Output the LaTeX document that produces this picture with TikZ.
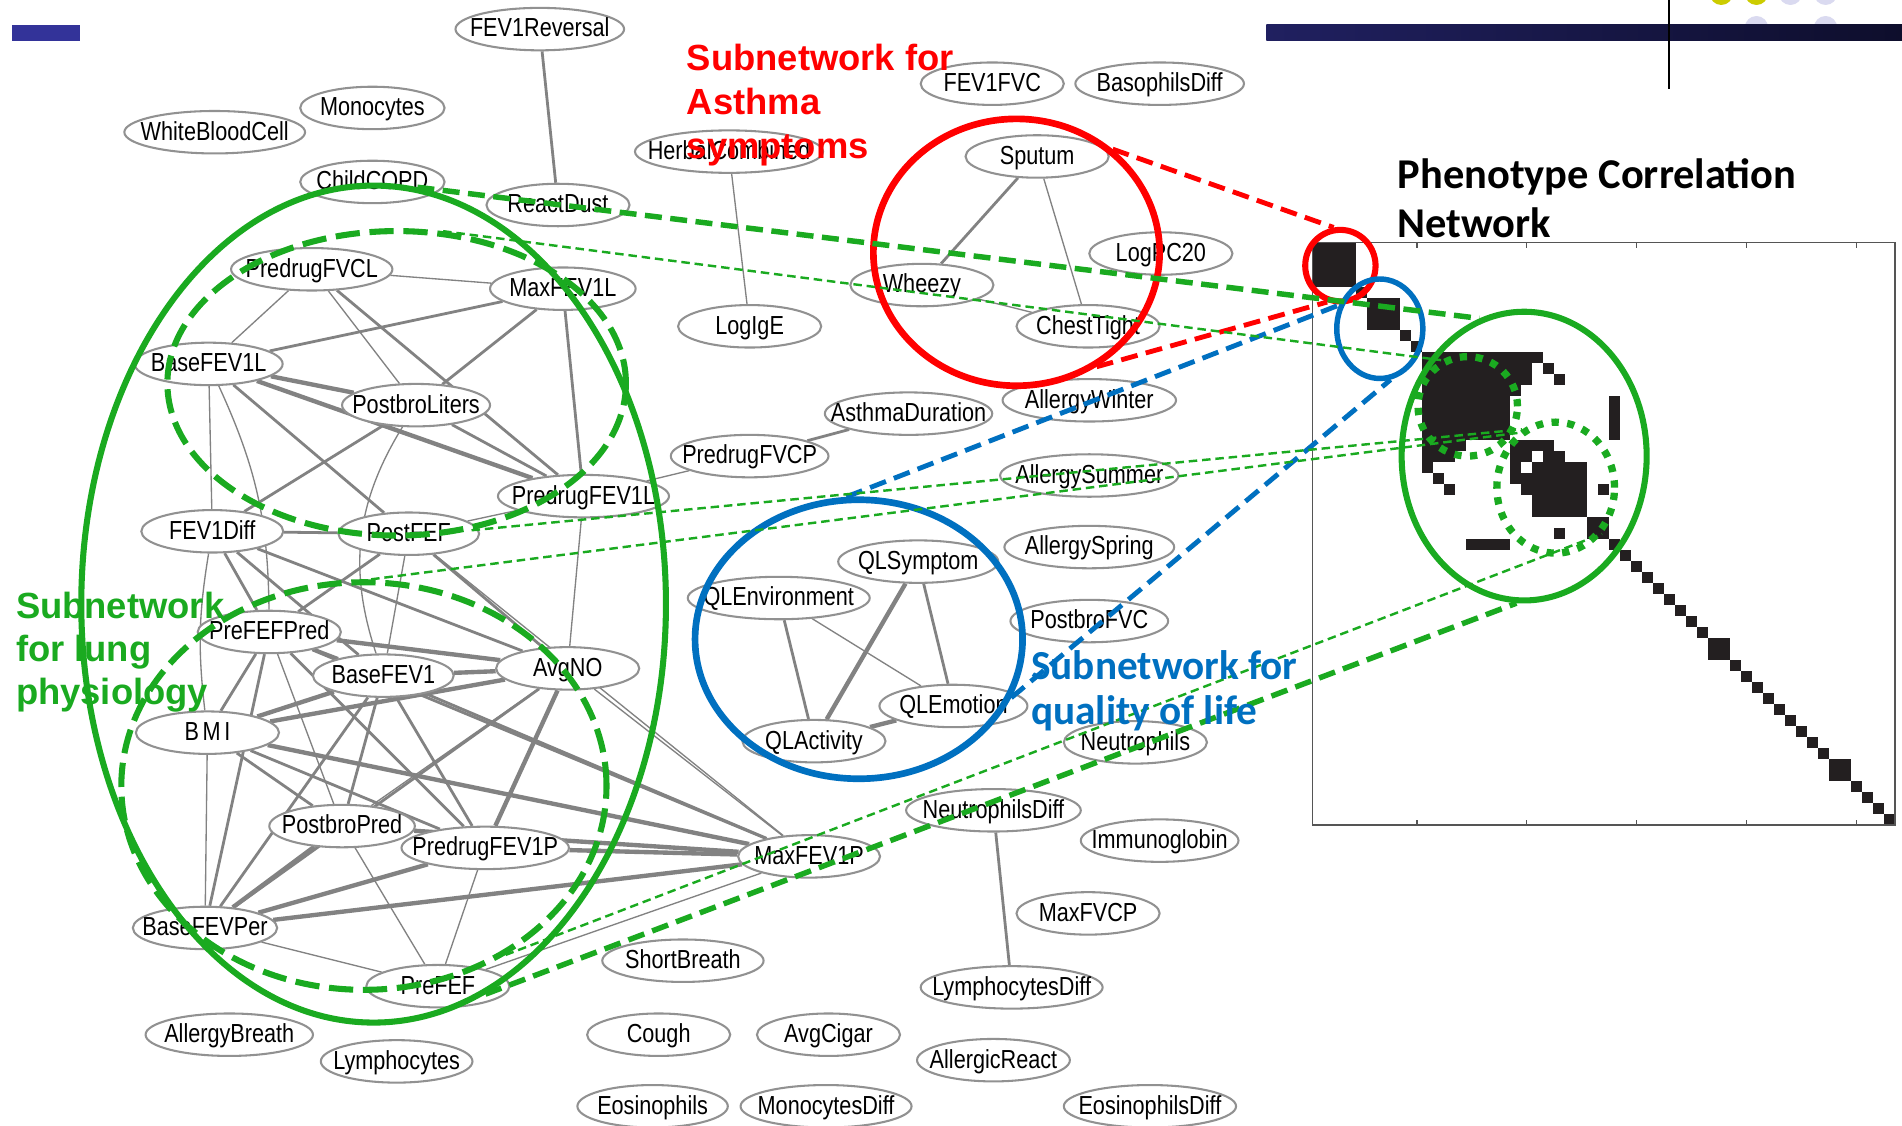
\documentclass[tikz,border=0pt]{standalone}
\usepackage{fontspec}
\setmainfont{Liberation Sans}
\newfontfamily\netfont{Liberation Sans}[FakeStretch=0.83]
\newfontfamily\carl{Carlito}
\usetikzlibrary{shapes.geometric,backgrounds}
\definecolor{egray}{RGB}{130,130,130}
\definecolor{ngray}{RGB}{145,145,145}
\definecolor{gr}{RGB}{26,170,32}
\definecolor{rd}{RGB}{255,0,0}
\definecolor{bl}{RGB}{0,112,192}
\definecolor{matk}{RGB}{35,31,32}
\definecolor{topblue}{RGB}{51,51,153}
\definecolor{navyL}{RGB}{32,32,96}
\definecolor{navyR}{RGB}{14,14,44}
\definecolor{dotY}{RGB}{204,204,0}
\definecolor{dotL}{RGB}{218,218,240}
\definecolor{frame}{RGB}{85,85,85}
\newcommand\mylbl[1]{\makebox[0pt]{#1}}
\begin{document}
\begin{tikzpicture}[x=1pt,y=-1pt,
  pn/.style={ellipse, draw=ngray, line width=1.7pt, fill=white, minimum width=#1, minimum height=35pt, inner sep=0pt, text height=17pt, text depth=4pt, font=\netfont\fontsize{21.5}{24}\selectfont},
  pn/.default=118pt,
  et/.style={draw=egray, line width=1.1pt},
  em/.style={draw=egray, line width=2.3pt},
  ek/.style={draw=egray, line width=3.6pt},
  ov/.style={ellipse, inner sep=0pt, fill=none},
  rdash/.style={draw=rd, line width=4pt, dash pattern=on 14pt off 7pt},
  bdash/.style={draw=bl, line width=4pt, dash pattern=on 14pt off 7pt},
  gthick/.style={draw=gr, line width=4.5pt, dash pattern=on 14pt off 7pt},
  gthin/.style={draw=gr, line width=2pt, dash pattern=on 7pt off 4pt},
  bigtxt/.style={anchor=base west, inner sep=0pt, font=\fontsize{30}{36}\selectfont\bfseries},
  caltxt/.style={anchor=base west, inner sep=0pt, font=\carl\bfseries\fontsize{34}{40}\selectfont}
]
\useasboundingbox (0,0) rectangle (1568,928);
\clip (0,0) rectangle (1568,928);

% top decorations
\fill[dotY] (1419,-5.5) circle (9.6pt);
\fill[dotY] (1448,-5.5) circle (9.6pt);
\fill[dotL] (1476,-5.5) circle (9.6pt);
\fill[dotL] (1505,-5.5) circle (9.6pt);
\fill[dotL] (1448,22.8) circle (9.6pt);
\fill[dotL] (1505,22.8) circle (9.6pt);
\fill[topblue] (10,20.6) rectangle (66,33.5);
\shade[left color=navyL, right color=navyR] (1044,20.6) rectangle (1568,33.5);
\draw[black, line width=2pt] (1376,0) -- (1376,73);

% correlation matrix
\begin{scope}[shift={(1082,200)}, x=9.0566pt, y=-9.0566pt]
  \fill[matk] (0,0) rectangle ++(4,4);
  \fill[matk] (4,4) rectangle ++(1,1);
  \fill[matk] (5,5) rectangle ++(3,3);
  \fill[matk] (8,8) rectangle ++(1,1);
  \fill[matk] (9,9) rectangle ++(1,1);
  \fill[matk] (10,10) rectangle ++(11,1);
  \fill[matk] (10,11) rectangle ++(10,1);
  \fill[matk] (21,11) rectangle ++(1,1);
  \fill[matk] (22,12) rectangle ++(1,1);
  \fill[matk] (10,12) rectangle ++(10,1);
  \fill[matk] (10,13) rectangle ++(9,1);
  \fill[matk] (10,14) rectangle ++(8,4);
  \fill[matk] (10,18) rectangle ++(4,1);
  \fill[matk] (10,19) rectangle ++(3,1);
  \fill[matk] (10,20) rectangle ++(1,1);
  \fill[matk] (11,21) rectangle ++(1,1);
  \fill[matk] (12,22) rectangle ++(1,1);
  \fill[matk] (18,18) rectangle ++(4,1);
  \fill[matk] (18,19) rectangle ++(2,1);
  \fill[matk] (21,19) rectangle ++(2,1);
  \fill[matk] (18,20) rectangle ++(1,1);
  \fill[matk] (20,20) rectangle ++(5,1);
  \fill[matk] (18,21) rectangle ++(7,1);
  \fill[matk] (19,22) rectangle ++(6,1);
  \fill[matk] (20,23) rectangle ++(5,2);
  \fill[matk] (25,25) rectangle ++(2,2);
  \fill[matk] (27,14) rectangle ++(1,4);
  \fill[matk] (26,22) rectangle ++(1,1);
  \fill[matk] (22,26) rectangle ++(1,1);
  \fill[matk] (14,27) rectangle ++(4,1);
  \foreach \k in {27,...,52} \fill[matk] (\k,\k) rectangle ++(1,1);
  \fill[matk] (36,36) rectangle ++(2,2);
  \fill[matk] (47,47) rectangle ++(2,2);
  \draw[frame, line width=1.3pt] (0,0) rectangle (53,53);
  \foreach \t in {9.5,19.5,29.5,39.5,49.5} {
    \draw[frame, line width=1.1pt] (\t,0) -- (\t,0.45);
    \draw[frame, line width=1.1pt] (\t,53) -- (\t,52.55);
  }
\end{scope}

% network nodes
\foreach \n/\x/\y/\w/\t in {
  FEVrev/445/24/139/FEV1Reversal, Mono/307/89/119/Monocytes, WBC/177/109/149/WhiteBloodCell,
  ChildCOPD/307/150/119/ChildCOPD, ReactDust/460/169/118/ReactDust, Herbs/601/125/155/HerbalCombined,
  FEV1FVC/818/69/118/FEV1FVC, BasophilsDiff/956/69/139/BasophilsDiff, Sputum/855/129/118/Sputum,
  LogPC20/957/209/118/LogPC20, Wheezy/760/235/118/Wheezy, ChestTight/897/269/118/ChestTight,
  LogIgE/618/269/118/LogIgE, PredrugFVCL/257/222/133/PredrugFVCL, MaxFEV1L/464/238/120/MaxFEV1L,
  BaseFEV1L/172/300/122/BaseFEV1L, PostbroLiters/343/334/122/PostbroLiters, AllergyWinter/898/330/143/AllergyWinter,
  AsthmaDuration/749/341/138/AsthmaDuration, PredrugFVCP/618/376/130/PredrugFVCP, AllergySummer/898/392/147/AllergySummer,
  PredrugFEV1L/481/409/141/PredrugFEV1L, FEV1Diff/175/438/117/FEV1Diff, PostFEF/337/440/116/PostFEF,
  AllergySpring/898/451/140/AllergySpring, QLSymptom/757/463/132/QLSymptom, QLEnvironment/642/493/150/QLEnvironment,
  PostbroFVC/898/512/130/PostbroFVC, PreFEFPred/222/521/118/PreFEFPred, BaseFEV1/316/557/116/BaseFEV1,
  AvgNO/468/551/118/AvgNO, QLEmotion/786/582/122/QLEmotion, QLActivity/671/611/118/QLActivity,
  Neutrophils/936/612/118/Neutrophils, NeutrophilsDiff/819/668/144/NeutrophilsDiff, Immunoglobin/956/693/130/Immunoglobin,
  PostbroPred/282/681/120/PostbroPred, PredrugFEV1P/400/699/138/PredrugFEV1P, MaxFEV1P/667/706/117/MaxFEV1P,
  MaxFVCP/897/753/118/MaxFVCP, BaseFEVPer/169/765/119/BaseFEVPer, ShortBreath/563/792/133/ShortBreath,
  LymphocytesDiff/834/814/150/LymphocytesDiff, PreFEF/361/813/118/PreFEF, AllergyBreath/189/853/138/AllergyBreath,
  Lymphocytes/327/875/125/Lymphocytes, Cough/543/853/118/Cough, AvgCigar/683/853/118/AvgCigar,
  AllergicReact/819/874/126/AllergicReact, Eosinophils/538/912/124/Eosinophils, MonocytesDiff/681/912/141/MonocytesDiff,
  EosinophilsDiff/948/912/142/EosinophilsDiff}
  \node[pn=\w pt] (\n) at (\x,\y) {\mylbl{\t}};
\node[pn=118pt] (BMI) at (171,604) {\mylbl{B\kern3pt M\kern3pt I}};

% network edges (behind nodes)
\begin{scope}[on background layer]
\fill[white] (0,0) rectangle (1568,928);
\foreach \a/\b in {Herbs/LogIgE, Sputum/ChestTight, Wheezy/ChestTight, PredrugFVCP/PredrugFEV1L,
  QLEnvironment/QLEmotion, PredrugFVCL/MaxFEV1L, PredrugFVCL/BaseFEV1L, PredrugFVCL/PostbroLiters,
  BaseFEV1L/FEV1Diff, PredrugFEV1L/PostFEF, PredrugFEV1L/AvgNO, PostFEF/BaseFEV1, PreFEFPred/PostbroPred,
  AvgNO/PostbroPred, AvgNO/MaxFEV1P, BMI/BaseFEVPer, PostbroPred/PreFEF, PredrugFEV1P/PreFEF,
  BaseFEVPer/PreFEF, PreFEF/MaxFEV1P, PostFEF/MaxFEV1P}
  \draw[et] (\a) -- (\b);
\foreach \a/\b in {FEVrev/ReactDust, Sputum/Wheezy, AsthmaDuration/PredrugFVCP, NeutrophilsDiff/LymphocytesDiff,
  QLSymptom/QLEmotion, QLEnvironment/QLActivity, PredrugFVCL/PredrugFEV1L, MaxFEV1L/BaseFEV1L,
  MaxFEV1L/PostbroLiters, MaxFEV1L/PredrugFEV1L, BaseFEV1L/PostFEF, PostbroLiters/PredrugFEV1L,
  PostbroLiters/FEV1Diff, FEV1Diff/PostFEF, FEV1Diff/PreFEFPred, FEV1Diff/BaseFEV1, FEV1Diff/AvgNO,
  PostFEF/PreFEFPred, PostFEF/AvgNO, PreFEFPred/BaseFEV1, PreFEFPred/BMI, PreFEFPred/BaseFEVPer,
  PreFEFPred/PredrugFEV1P, PreFEFPred/MaxFEV1P, BaseFEV1/BaseFEVPer, BaseFEV1/PostbroPred,
  BaseFEV1/PredrugFEV1P, BaseFEV1/MaxFEV1P, AvgNO/BaseFEVPer, BMI/PostbroPred, BMI/PredrugFEV1P}
  \draw[em] (\a) -- (\b);
\foreach \a/\b in {QLSymptom/QLActivity, QLActivity/QLEmotion, BaseFEV1L/PostbroLiters, BaseFEV1L/PredrugFEV1L,
  PreFEFPred/AvgNO, BaseFEV1/AvgNO, BaseFEV1/BMI, AvgNO/BMI, AvgNO/PredrugFEV1P, BMI/MaxFEV1P,
  PostbroPred/BaseFEVPer, PostbroPred/MaxFEV1P, PredrugFEV1P/BaseFEVPer, PredrugFEV1P/MaxFEV1P,
  BaseFEVPer/MaxFEV1P}
  \draw[ek] (\a) -- (\b);
\draw[et] (BaseFEV1L) to[bend left=12] (PreFEFPred);
\draw[et] (FEV1Diff) to[bend right=8] (BMI);
\draw[et] (PostbroLiters) to[bend right=25] (BaseFEV1);
\end{scope}

% subnetwork outlines
\node[ov, draw=rd, line width=5.5pt, minimum width=236pt, minimum height=220pt] (redE) at (838,208) {};
\node[ov, draw=bl, line width=5.5pt, minimum width=270pt, minimum height=230pt] (blueE) at (708,527) {};
\node[ov, draw=gr, line width=5pt, minimum width=482pt, minimum height=690pt] (greenBig) at (308,498) {};
\node[ov, draw=gr, line width=5pt, dash pattern=on 20pt off 8pt, minimum width=378pt, minimum height=251pt] (greenU) at (327,316) {};
\node[ov, draw=gr, line width=5pt, dash pattern=on 20pt off 8pt, minimum width=400pt, minimum height=336pt] (greenL) at (300,648) {};
\node[ov, draw=rd, line width=5pt, minimum width=58pt, minimum height=59pt] (redS) at (1105,219) {};
\node[ov, draw=bl, line width=4.5pt, minimum width=71pt, minimum height=82pt] (blueS) at (1137.5,271) {};
\node[ov, draw=gr, line width=5pt, minimum width=202pt, minimum height=238pt] (greenM) at (1256.5,376) {};
\node[ov, draw=gr, line width=6pt, dash pattern=on 6pt off 7pt, minimum width=82pt, minimum height=82pt] (dotA) at (1210,335) {};
\node[ov, draw=gr, line width=6pt, dash pattern=on 6pt off 7pt, minimum width=97pt, minimum height=108pt] (dotB) at (1282.5,402) {};

% dashed connectors between network and matrix
\draw[rdash] (redE.47) -- (redS.100);
\draw[rdash] (redE.-55) -- (redS.250);
\draw[bdash] (blueE.95) -- (blueS.150);
\draw[bdash] (blueE.-21) -- (blueS.-78);
\draw[gthick] (greenBig.84) -- (greenM.108);
\draw[gthin] (greenU.73) -- (dotA.120);
\draw[gthin] (greenU.-63) -- (dotB.120);
\draw[gthin] (greenL.88) -- (dotB.125);
\draw[gthin] (greenL.-50) -- (dotB.-45);
\draw[gthick] (greenBig.-74) -- (greenM.-93);

% labels
\node[bigtxt, text=rd] (rt1) at (566,58) {Subnetwork for};
\node[bigtxt, text=rd] (rt2) at (566,94.5) {Asthma};
\node[bigtxt, text=rd] (rt3) at (566,131) {symptoms};
\node[bigtxt, text=gr] (gt1) at (13,509.5) {Subnetwork};
\node[bigtxt, text=gr] (gt2) at (13,545.5) {for lung};
\node[bigtxt, text=gr] (gt3) at (13,581) {physiology};
\node[caltxt, text=bl] (bt1) at (850,560) {Subnetwork for};
\node[caltxt, text=bl] (bt2) at (850,597) {quality of life};
\node[caltxt, text=black, font=\carl\bfseries\fontsize{35}{42}\selectfont] (pt1) at (1152,155) {Phenotype Correlation};
\node[caltxt, text=black, font=\carl\bfseries\fontsize{35}{42}\selectfont] (pt2) at (1152,196) {Network};
\end{tikzpicture}
\end{document}
